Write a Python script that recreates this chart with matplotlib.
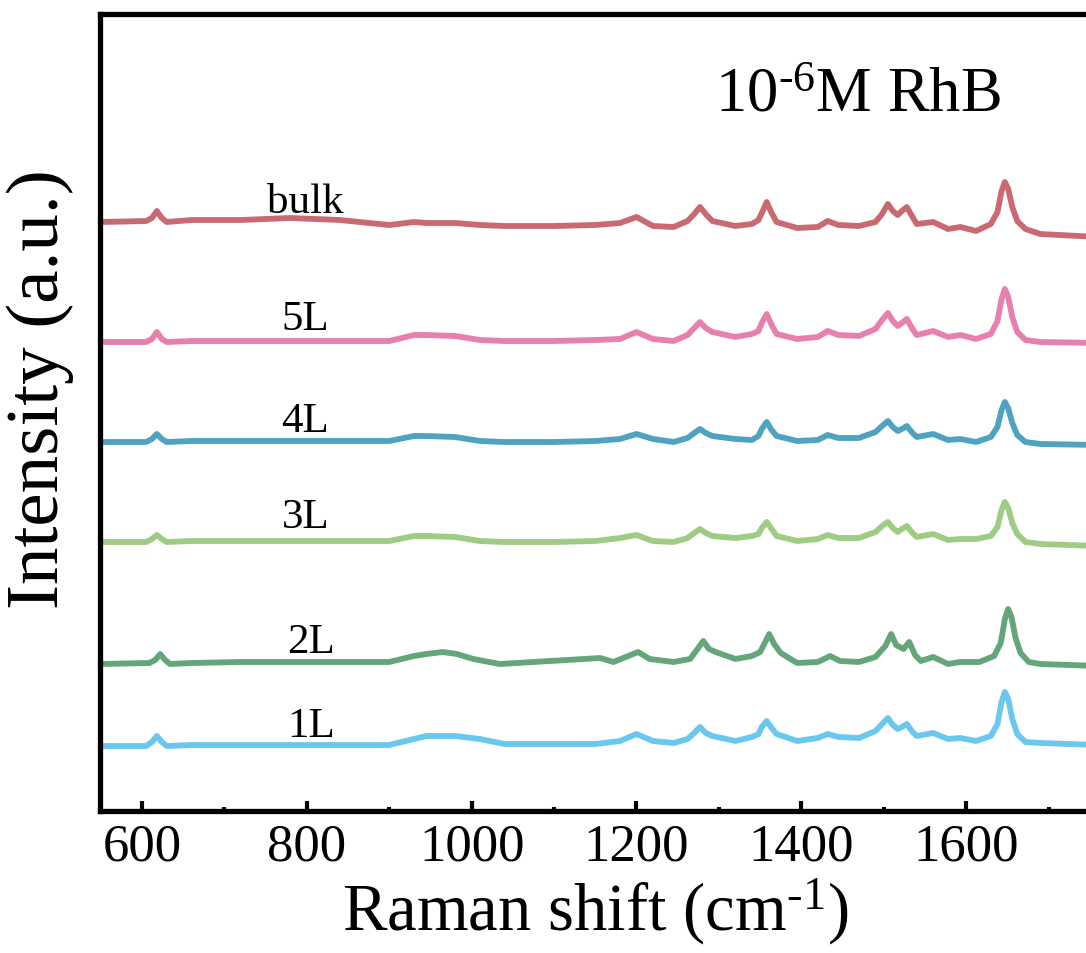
import matplotlib
matplotlib.use("Agg")
import matplotlib.pyplot as plt
from matplotlib.ticker import MultipleLocator, NullLocator

plt.rcParams['font.family'] = ['Liberation Serif', 'DejaVu Serif']
plt.rcParams['mathtext.fontset'] = 'custom'
plt.rcParams['mathtext.rm'] = 'Liberation Serif'
plt.rcParams['mathtext.it'] = 'Liberation Serif:italic'

# Raman shift grid (cm^-1) shared by most spectra
shift = [550, 605, 612, 618, 624, 630, 660, 720, 780, 840,
         900, 930, 945, 980, 1010, 1040, 1100, 1150, 1180, 1200,
         1220, 1245, 1262, 1270, 1277, 1284, 1292, 1320, 1340, 1348,
         1352, 1358, 1364, 1370, 1395, 1420, 1432, 1445, 1470, 1490,
         1498, 1505, 1511, 1517, 1522, 1528, 1535, 1540, 1560, 1578,
         1593, 1612, 1630, 1638, 1643, 1647, 1651, 1656, 1662, 1672,
         1690, 1760]

bulk = [589, 590, 593, 600, 593, 589, 591, 591, 593, 591,
        586, 589, 588, 588, 586, 585, 585, 586, 588, 594,
        585, 584, 590, 597, 604, 597, 590, 585, 587, 591,
        598, 609, 598, 589, 583, 584, 590, 586, 585, 589,
        597, 607, 600, 596, 600, 604, 594, 587, 589, 582,
        584, 580, 587, 599, 620, 629, 622, 604, 590, 582,
        577, 574]

L5 = [469, 469, 472, 479, 472, 469, 470, 470, 470, 470,
      470, 476, 476, 475, 471, 470, 470, 471, 472, 479,
      472, 470, 476, 483, 489, 483, 479, 474, 477, 480,
      488, 497, 486, 477, 472, 474, 480, 476, 475, 482,
      491, 498, 490, 485, 488, 492, 482, 476, 480, 474,
      476, 472, 477, 490, 512, 522, 514, 494, 479, 471,
      469, 468]

L4 = [369, 369, 372, 377, 372, 369, 370, 370, 370, 370,
      370, 375, 375, 374, 370, 369, 369, 370, 372, 377,
      372, 369, 373, 378, 382, 378, 375, 372, 371, 375,
      382, 389, 381, 375, 370, 371, 376, 373, 373, 379,
      385, 390, 384, 380, 382, 385, 378, 374, 377, 371,
      372, 369, 374, 384, 401, 409, 403, 388, 376, 369,
      367, 366]

L3 = [269, 269, 272, 276, 272, 269, 270, 270, 270, 270,
      270, 275, 275, 274, 270, 269, 269, 270, 273, 276,
      270, 269, 273, 278, 282, 278, 275, 273, 275, 277,
      283, 289, 282, 275, 270, 272, 276, 273, 273, 279,
      285, 289, 283, 279, 282, 285, 278, 274, 277, 271,
      272, 272, 275, 284, 301, 309, 303, 288, 277, 269,
      267, 265]

L1 = [65, 65, 69, 75, 69, 65, 66, 66, 66, 66,
      66, 72, 75, 75, 72, 67, 67, 67, 70, 77,
      70, 68, 72, 78, 84, 78, 75, 70, 74, 77,
      84, 90, 83, 77, 70, 73, 77, 74, 73, 80,
      87, 93, 86, 82, 84, 87, 79, 75, 78, 72,
      73, 70, 75, 87, 109, 119, 112, 92, 77, 69,
      68, 66]

# 2L spectrum is slightly shifted, own grid
shift_2L = [550, 609, 616, 622, 628, 634, 660, 720, 780, 840,
            900, 930, 945, 965, 982, 1002, 1034, 1075, 1156, 1172,
            1202, 1216, 1245, 1265, 1274, 1281, 1288, 1296, 1320, 1340,
            1350, 1355, 1361, 1367, 1375, 1395, 1420, 1435, 1447, 1470,
            1490, 1502, 1509, 1515, 1524, 1531, 1538, 1545, 1560, 1578,
            1593, 1616, 1634, 1642, 1647, 1651, 1655, 1660, 1666, 1676,
            1690, 1760]
L2 = [147, 148, 151, 157, 151, 147, 148, 149, 149, 149,
      149, 155, 157, 159, 157, 152, 147, 149, 153, 149,
      159, 152, 149, 152, 162, 170, 162, 159, 152, 155,
      159, 167, 177, 167, 158, 148, 149, 155, 150, 149,
      154, 165, 177, 166, 162, 169, 156, 150, 154, 147,
      149, 149, 155, 168, 192, 202, 194, 173, 158, 149,
      147, 145]

labels = ['bulk', '5L', '4L', '3L', '2L', '1L']
colors = ['#C96A73', '#E77FAF', '#4FA2C0', '#9ECC82', '#63A67A', '#6AC7EE']
label_x = [798, 798, 798, 798, 805, 805]
label_y = [599, 482, 380, 284, 159, 75]

series = [(shift, bulk), (shift, L5), (shift, L4), (shift, L3), (shift_2L, L2), (shift, L1)]

fig = plt.figure(figsize=(10.86, 9.54), dpi=100)
ax = fig.add_axes([100/1086, 1 - 812/954, 998/1086, 797/954])

for (xs, ys), c in zip(series, colors):
    ax.plot(xs, ys, color=c, lw=4.2, solid_joinstyle='round', solid_capstyle='round')

for lab, lx, ly in zip(labels, label_x, label_y):
    ax.text(lx, ly, lab, fontsize=31, ha='center', va='baseline', color='black')

ax.text(1468, 700, '10$^{\\mathregular{\u20106}}$M RhB', fontsize=45, ha='center', va='baseline')

ax.set_xlim(549, 1760)
ax.set_ylim(0, 797)

ax.xaxis.set_major_locator(MultipleLocator(200))
ax.xaxis.set_minor_locator(MultipleLocator(100))
ax.yaxis.set_major_locator(NullLocator())
ax.tick_params(axis='x', which='major', direction='in', length=7, width=3,
               labelsize=38, pad=8, top=False)
ax.tick_params(axis='x', which='minor', direction='in', length=3, width=3, top=False)

for s in ax.spines.values():
    s.set_linewidth(3.8)

ax.set_xlabel('Raman shift (cm$^{\\mathregular{\u20101}}$)', fontsize=48)
ax.xaxis.set_label_coords(0.496, -0.08)
ax.set_ylabel('Intensity (a.u.)', fontsize=54)
ax.yaxis.set_label_coords(-0.026, 0.53)

fig.savefig('out.png', dpi=100)
